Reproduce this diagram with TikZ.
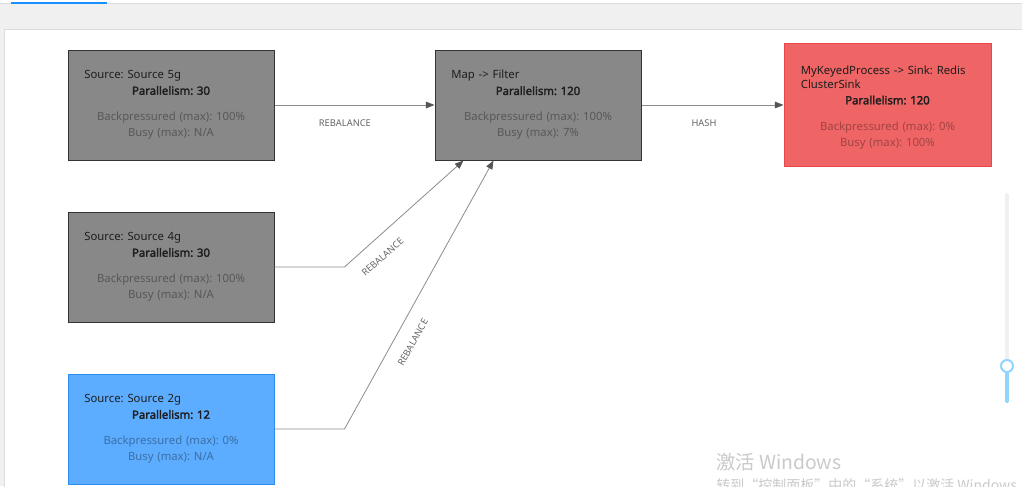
\documentclass[tikz,border=0pt]{standalone}
\usepackage{fontspec}
\setmainfont{Noto Sans}[BoldFont={Noto Sans}, BoldFeatures={FakeBold=2.5}]
\newfontfamily\cjk{Noto Sans CJK SC}
\usetikzlibrary{positioning,arrows.meta}
\frenchspacing
\definecolor{opgray}{HTML}{888888}
\definecolor{opborder}{HTML}{333333}
\definecolor{opblue}{HTML}{5CACFF}
\definecolor{blueborder}{HTML}{2D8CF0}
\definecolor{opred}{HTML}{EF6464}
\definecolor{redborder}{HTML}{E84848}
\definecolor{titletext}{HTML}{1E1E1E}
\definecolor{edgegray}{HTML}{8C8C8C}
\definecolor{tipgray}{HTML}{555555}
\definecolor{labelgray}{HTML}{666666}
\definecolor{bggray}{HTML}{F0F0F0}
\definecolor{tabline}{HTML}{DCDCDC}
\definecolor{tabblue}{HTML}{1890FF}
\definecolor{trackgray}{HTML}{F0F0F0}
\definecolor{barblue}{HTML}{91D5FF}
\definecolor{wmgray}{HTML}{CACACA}
\newcommand{\optitle}[1]{\makebox[\linewidth][l]{#1}}
\newcommand{\metric}[1]{{\color{metric}#1}}

\begin{document}
\begin{tikzpicture}[x=0.75pt, y=-0.75pt, node distance={38.25pt and 120pt},
  main/.style={draw=opborder, fill=opgray, line width=0.75pt, minimum width=154.5pt, minimum height=82.5pt,
    text width=130pt, align=center, inner sep=0pt, text=titletext, font=\fontsize{8.5}{12}\selectfont,
    /utils/exec={\colorlet{metric}{opgray!65!black}}},
  busy/.style={main, draw=blueborder, fill=opblue, /utils/exec={\colorlet{metric}{opblue!65!black}}},
  hot/.style={main, draw=redborder, fill=opred, minimum width=155.25pt, minimum height=92.25pt,
    /utils/exec={\colorlet{metric}{opred!68!black}}},
  edge/.style={draw=edgegray, line width=0.6pt, -{Triangle[length=6.5pt, width=5pt, color=tipgray]}},
  elabel/.style={font=\fontsize{7}{8}\selectfont, text=labelgray, inner sep=0pt, below=10.5pt}]
\useasboundingbox (0,0) rectangle (1022,486);
\clip (0,0) rectangle (1022,486);
\fill[white] (0,0) rectangle (1022,486);
\fill[bggray] (0,4) rectangle (1022,486);
\draw[tabline, line width=0.75pt] (0,3.5) -- (1022,3.5);
\fill[tabblue] (11,1.5) rectangle (107,3.8);
\filldraw[fill=white, draw=tabline, line width=0.5pt] (4,29) rectangle (1030,490);

\node[main] (src5) at (171,105) {\optitle{Source: Source 5g}\\ \textbf{Parallelism: 30}\\[7.5pt]
  \metric{Backpressured (max): 100\%}\\ \metric{Busy (max): N/A}};
\node[main] (src4) [below=of src5] {\optitle{Source: Source 4g}\\ \textbf{Parallelism: 30}\\[7.5pt]
  \metric{Backpressured (max): 100\%}\\ \metric{Busy (max): N/A}};
\node[busy] (src2) [below=of src4] {\optitle{Source: Source 2g}\\ \textbf{Parallelism: 12}\\[7.5pt]
  \metric{Backpressured (max): 0\%}\\ \metric{Busy (max): N/A}};
\node[main] (map) [right=of src5] {\optitle{Map -> Filter}\\ \textbf{Parallelism: 120}\\[7.5pt]
  \metric{Backpressured (max): 100\%}\\ \metric{Busy (max): 7\%}};
\node[hot] (sink) [right=106.5pt of map] {\optitle{\rule{0pt}{10pt}MyKeyedProcess -> Sink: Redis}\\[-1.5pt]
  \optitle{ClusterSink}\\ \textbf{Parallelism: 120}\\[7.5pt]
  \metric{Backpressured (max): 0\%}\\ \metric{Busy (max): 100\%}};

\coordinate (in4) at ([xshift=21.75pt]map.south west);
\coordinate (in2) at ([xshift=44.25pt]map.south west);

\draw[edge] (src5) -- node[elabel, pos=0.44] {REBALANCE} (map);
\draw[edge] (map) -- node[elabel, pos=0.44] {HASH} (sink);
\draw[edge] (src4.east) -- ++(70,0) -- node[elabel, sloped, pos=0.22] {REBALANCE} (in4);
\draw[edge] (src2.east) -- ++(70,0) -- node[elabel, sloped, pos=0.354] {REBALANCE} (in2);

\draw[trackgray, line width=3pt, line cap=round] (1007,195) -- (1007,401);
\draw[barblue, line width=3pt, line cap=round] (1007,366) -- (1007,401);
\filldraw[fill=white, draw=barblue, line width=1.5pt] (1007,366) circle (4.5pt);

\node[anchor=west, inner sep=0pt, text=wmgray, font=\cjk\fontsize{14.5}{16}\selectfont] (wm) at (716,462) {激活 Windows};
\node[anchor=north west, inner sep=0pt, text=wmgray, font=\cjk\fontsize{10.5}{12}\selectfont] (wmhint) at (716,478) {转到“控制面板”中的“系统”以激活 Windows};
\end{tikzpicture}
\end{document}
